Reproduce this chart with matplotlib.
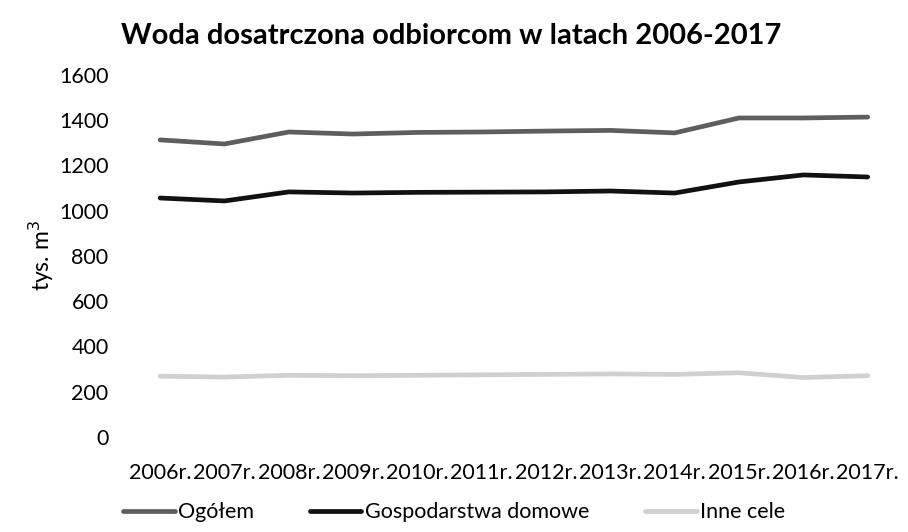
import matplotlib.pyplot as plt

years = ["2006r.", "2007r.", "2008r.", "2009r.", "2010r.", "2011r.",
         "2012r.", "2013r.", "2014r.", "2015r.", "2016r.", "2017r."]
ogolem = [1313, 1295, 1348, 1339, 1346, 1348, 1352, 1355, 1344, 1410, 1410, 1414]
gospodarstwa = [1056, 1043, 1083, 1078, 1081, 1082, 1083, 1087, 1078, 1127, 1158, 1149]
inne = [268, 264, 272, 270, 272, 274, 276, 278, 276, 283, 262, 270]

plt.rcParams["font.family"] = ["Lato", "DejaVu Sans"]

fig = plt.figure(figsize=(9.08, 5.32), dpi=100)
ax = fig.add_axes([0.141, 0.179, 0.85, 0.68])

xs = range(len(years))
ax.plot(xs, ogolem, color="#5e5e5e", lw=3.4, label="Ogółem", solid_capstyle="round")
ax.plot(xs, gospodarstwa, color="#111111", lw=3.4, label="Gospodarstwa domowe",
        solid_capstyle="round")
ax.plot(xs, inne, color="#d0d0d0", lw=3.4, label="Inne cele", solid_capstyle="round")

ax.set_xlim(-0.5, len(years) - 0.5)
ax.set_ylim(0, 1600)
ax.set_yticks(range(0, 1601, 200))
ax.set_xticks(list(xs))
ax.set_xticklabels(years)
ax.tick_params(length=0, labelsize=15.5, pad=19)
ax.tick_params(axis="y", pad=14)
for s in ax.spines.values():
    s.set_visible(False)

ax.set_ylabel("tys. m$^3$", fontsize=16.5, labelpad=2)
fig.text(0.497, 0.918, "Woda dosatrczona odbiorcom w latach 2006-2017",
         ha="center", fontsize=21, fontweight="bold")

fig.legend(loc="center", bbox_to_anchor=(0.5, 0.037), ncol=3, frameon=False,
           fontsize=15.5, handlelength=2.4, columnspacing=2.6, handletextpad=0.15)

fig.savefig("out.png", dpi=100)
